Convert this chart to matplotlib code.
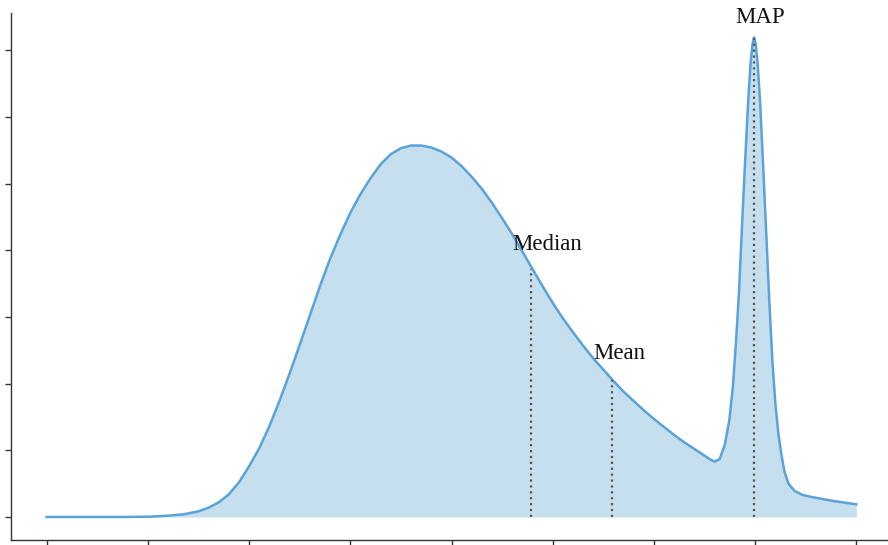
import matplotlib
matplotlib.use("Agg")
import matplotlib.pyplot as plt

plt.rcParams['font.family'] = ['Liberation Serif', 'DejaVu Serif']

xs = [0.0, 0.5, 0.8, 1.02, 1.2, 1.35, 1.5, 1.6, 1.7, 1.8, 1.9, 2.0, 2.1, 2.2, 2.3,
      2.4, 2.5, 2.6, 2.7, 2.8, 2.9, 3.0, 3.1, 3.2, 3.3, 3.4, 3.5, 3.6, 3.7, 3.8,
      3.9, 4.0, 4.1, 4.2, 4.3, 4.4, 4.5, 4.6, 4.7, 4.8, 4.9, 5.0, 5.1, 5.2, 5.3,
      5.4, 5.5, 5.6, 5.7, 5.8, 5.9, 6.0, 6.1, 6.2, 6.3, 6.4, 6.5, 6.56, 6.6,
      6.65, 6.7, 6.745, 6.78, 6.81, 6.84, 6.87, 6.9, 6.93, 6.955, 6.975, 6.99,
      7.005, 7.025, 7.05, 7.08, 7.11, 7.14, 7.17, 7.2, 7.23, 7.26, 7.29, 7.33,
      7.39, 7.47, 7.575, 7.773, 8.0]
ys = [0.0, 0.0, 0.001, 0.005, 0.02, 0.04, 0.085, 0.14, 0.22, 0.34, 0.52, 0.76,
      1.03, 1.36, 1.74, 2.15, 2.58, 3.02, 3.46, 3.87, 4.23, 4.56, 4.84, 5.08,
      5.29, 5.44, 5.53, 5.57, 5.57, 5.54, 5.48, 5.39, 5.26, 5.10, 4.92, 4.71,
      4.48, 4.24, 3.98, 3.72, 3.46, 3.21, 2.98, 2.77, 2.57, 2.38, 2.21, 2.04,
      1.88, 1.74, 1.60, 1.47, 1.35, 1.23, 1.12, 1.02, 0.92, 0.86, 0.83, 0.87,
      1.08, 1.45, 1.95, 2.6, 3.35, 4.35, 5.3, 6.2, 6.8, 7.1, 7.19, 7.1, 6.8,
      6.2, 5.25, 4.25, 3.25, 2.35, 1.7, 1.25, 0.93, 0.68, 0.5, 0.39, 0.33,
      0.295, 0.24, 0.19]

# summary statistics: position, curve height, label anchor
stat_names = ["Median", "Mean", "MAP"]
stat_x = [4.786, 5.59, 6.99]
stat_y = [3.72, 2.05, 7.19]
label_x = [4.947, 5.656, 7.045]
label_y = [4.0, 2.37, 7.40]

line_color = "#5AA3D8"
fill_color = "#C6DFEE"

fig = plt.figure(figsize=(8.88, 5.45), dpi=100)
ax = fig.add_axes([0.012, 0.0083, 0.988, 0.9687])

ax.fill_between(xs, ys, 0, color=fill_color, linewidth=0)
ax.plot(xs, ys, color=line_color, linewidth=1.8, solid_joinstyle="round")

for name, sx, sy, lx, ly in zip(stat_names, stat_x, stat_y, label_x, label_y):
    ax.vlines(sx, 0, sy, colors="#555555", linestyles=":", linewidth=1.6)
    ax.text(lx, ly, name, ha="center", va="baseline", fontsize=16.5, color="#111111")

ax.set_xlim(-0.356, 8.313)
ax.set_ylim(-0.352, 7.564)
ax.set_xticks(range(0, 9))
ax.set_yticks(range(0, 8))
ax.set_xticklabels([])
ax.set_yticklabels([])

for side in ["top", "right"]:
    ax.spines[side].set_visible(False)
for side in ["left", "bottom"]:
    ax.spines[side].set_color("#333333")
    ax.spines[side].set_linewidth(1.0)
ax.tick_params(direction="out", length=4, width=1.0, color="#333333")

fig.savefig("out.png", dpi=100)
